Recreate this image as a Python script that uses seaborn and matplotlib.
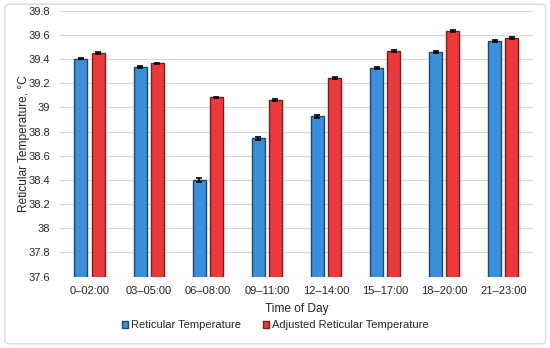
import numpy as np
import pandas as pd
import seaborn as sns
import matplotlib.pyplot as plt
from matplotlib.patches import FancyBboxPatch

# values
times = ['0–02:00', '03–05:00', '06–08:00', '09–11:00',
         '12–14:00', '15–17:00', '18–20:00', '21–23:00']
ret_temp = [39.405, 39.333, 38.400, 38.745, 38.926, 39.326, 39.461, 39.552]
adj_temp = [39.453, 39.364, 39.084, 39.061, 39.243, 39.469, 39.634, 39.573]
ret_err = [0.008, 0.008, 0.016, 0.012, 0.012, 0.009, 0.009, 0.007]
adj_err = [0.007, 0.007, 0.006, 0.007, 0.007, 0.007, 0.006, 0.007]

series = ['Reticular Temperature', 'Adjusted Reticular Temperature']
colors = ['#3A8EDB', '#EC3A3C']
edges = ['#1F4A6E', '#7A1E1E']

df = pd.DataFrame({
    'time': times * 2,
    'temp': ret_temp + adj_temp,
    'err': ret_err + adj_err,
    'series': [series[0]] * len(times) + [series[1]] * len(times),
})

sns.set_theme(style='white')
plt.rcParams['font.family'] = ['Liberation Sans', 'DejaVu Sans']

fig = plt.figure(figsize=(5.5, 3.48), dpi=100)
ax = fig.add_axes([0.109, 0.205, 0.86, 0.764])

# light rounded frame like the chart area border
frame = FancyBboxPatch((0.009, 0.012), 0.983, 0.976, boxstyle='round,pad=0,rounding_size=0.01',
                       transform=fig.transFigure, facecolor='none', edgecolor='#d9d9d9', lw=1)
fig.patches.append(frame)

sns.barplot(data=df, x='time', y='temp', hue='series', order=times, hue_order=series,
            palette=colors, saturation=1, width=0.58, gap=0.24, ax=ax, errorbar=None,
            legend=False, linewidth=1)

# colour the edges per series and add the error bars at the bar centres
for cont, ec, s in zip(ax.containers, edges, series):
    errs = df.loc[df['series'] == s, 'err'].values
    xs, ys = [], []
    for bar in cont:
        bar.set_edgecolor(ec)
        xs.append(bar.get_x() + bar.get_width() / 2)
        ys.append(bar.get_height())
    ax.errorbar(xs, ys, yerr=errs, fmt='none', ecolor='black', elinewidth=1.2,
                capsize=2.5, capthick=1.2, zorder=5)

ax.set_ylim(37.6, 39.8)
yt = np.round(np.arange(37.6, 39.81, 0.2), 1)
ax.set_yticks(yt)
ax.set_yticklabels([f'{v:g}' for v in yt])
ax.set_xlim(-0.5, len(times) - 0.5)

ax.yaxis.grid(True, color='#d9d9d9', lw=0.9)
ax.set_axisbelow(True)
for sp in ax.spines.values():
    sp.set_visible(False)
ax.tick_params(axis='y', length=0, labelsize=8, colors='#262626', pad=7)
ax.tick_params(axis='x', length=0, labelsize=8, colors='#262626', pad=6.5)

ax.set_xlabel('Time of Day', fontsize=8.6, color='#262626', labelpad=5)
ax.set_ylabel('Reticular Temperature, °C', fontsize=8.6, color='#262626', labelpad=-1)

handles = [plt.Rectangle((0, 0), 1, 1, facecolor=c, edgecolor=e, lw=1)
           for c, e in zip(colors, edges)]
fig.legend(handles, series, loc='center', bbox_to_anchor=(0.5, 0.066), ncol=2,
           frameon=False, fontsize=8, handlelength=0.6, handleheight=0.6,
           handletextpad=0.2, columnspacing=2.0)

fig.savefig('out.png', dpi=100)
